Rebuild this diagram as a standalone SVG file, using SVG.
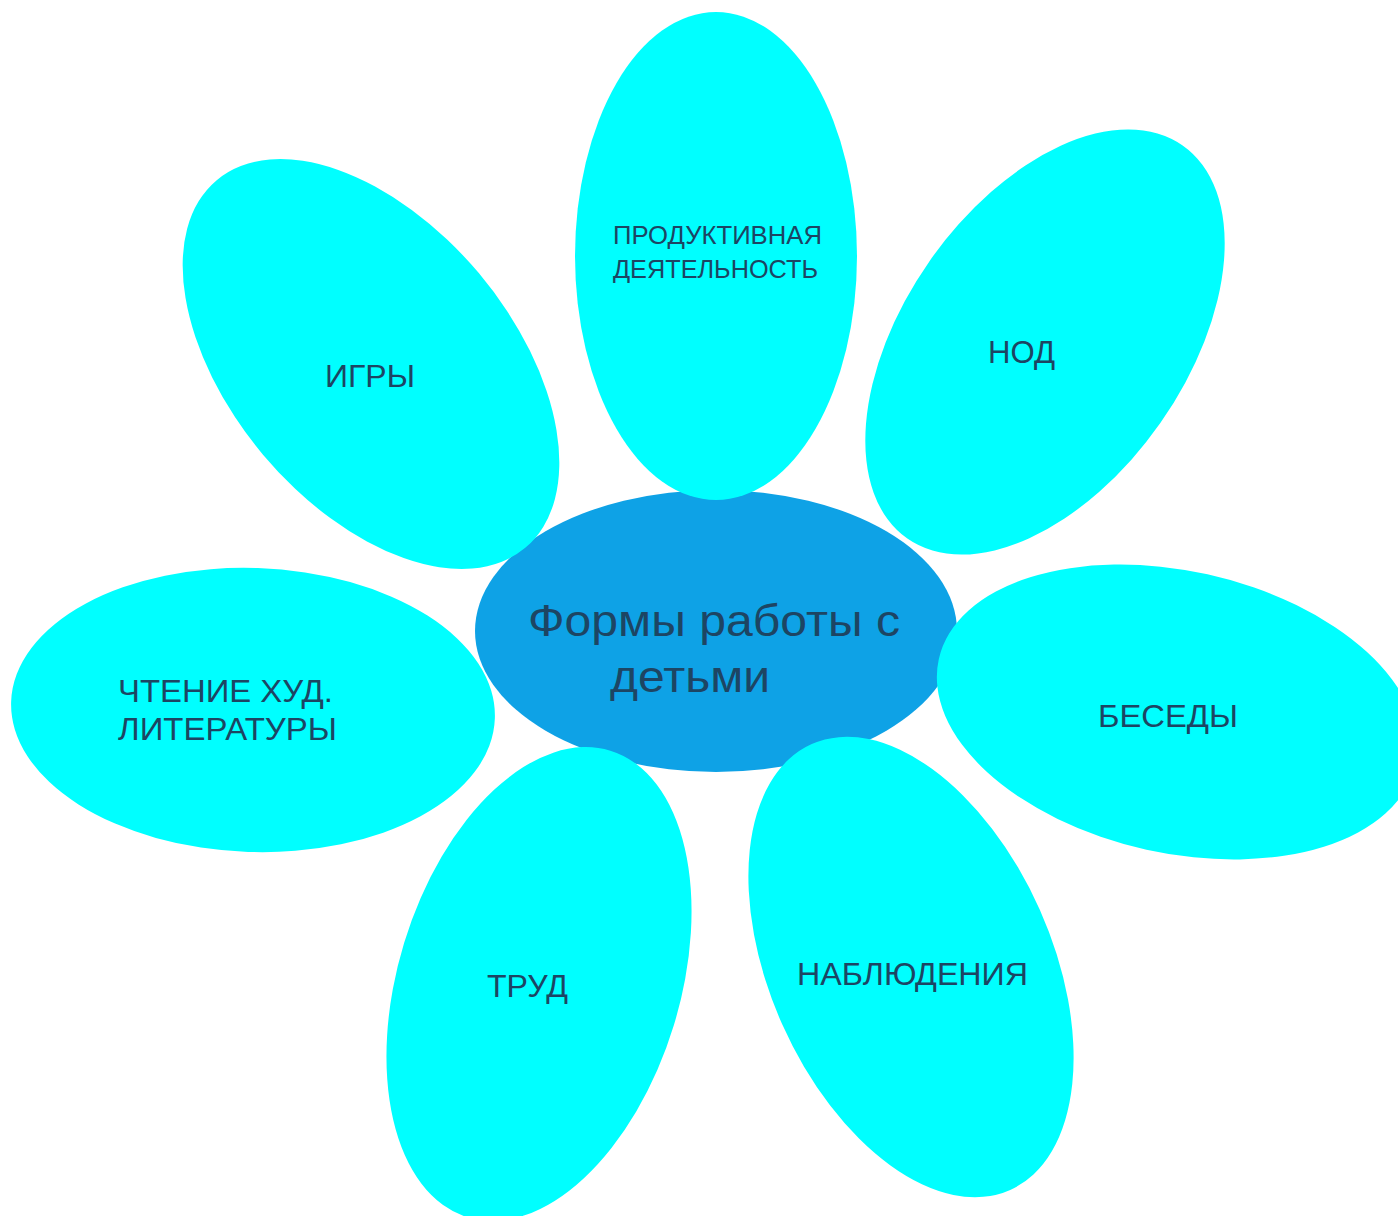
<svg xmlns="http://www.w3.org/2000/svg" width="1398" height="1216" viewBox="0 0 1398 1216">
  <style>
    .petal { fill: #00FFFF; }
    .core { fill: #0EA2E6; }
    .lbl { font-family: "Liberation Sans", Arial, sans-serif; fill: #1D4563; }
  </style>
  <rect width="1398" height="1216" fill="#FFFFFF"/>
  <g id="center">
    <ellipse class="core" cx="716" cy="631" rx="241" ry="141"/>
    <text class="lbl" x="528" y="636" font-size="44" textLength="372" lengthAdjust="spacingAndGlyphs">Формы работы с</text>
    <text class="lbl" x="610" y="692" font-size="44" textLength="160" lengthAdjust="spacingAndGlyphs">детьми</text>
  </g>
  <g id="connectors"></g>
  <g id="petal-productive">
    <ellipse class="petal" cx="716" cy="256" rx="141" ry="244"/>
    <text class="lbl" x="613" y="244" font-size="25" textLength="209" lengthAdjust="spacingAndGlyphs">ПРОДУКТИВНАЯ</text>
    <text class="lbl" x="613" y="278" font-size="25" textLength="205" lengthAdjust="spacingAndGlyphs">ДЕЯТЕЛЬНОСТЬ</text>
  </g>
  <g id="petal-games">
    <ellipse class="petal" cx="371" cy="364" rx="141" ry="240" transform="rotate(-40 371 364)"/>
    <text class="lbl" x="325" y="387" font-size="32" textLength="90" lengthAdjust="spacingAndGlyphs">ИГРЫ</text>
  </g>
  <g id="petal-nod">
    <ellipse class="petal" cx="1045" cy="342" rx="141" ry="240" transform="rotate(35 1045 342)"/>
    <text class="lbl" x="988" y="363" font-size="32" textLength="67" lengthAdjust="spacingAndGlyphs">НОД</text>
  </g>
  <g id="petal-reading">
    <ellipse class="petal" cx="253" cy="710" rx="242" ry="142" transform="rotate(2 253 710)"/>
    <text class="lbl" x="118" y="702" font-size="32" textLength="215" lengthAdjust="spacingAndGlyphs">ЧТЕНИЕ ХУД.</text>
    <text class="lbl" x="118" y="740" font-size="32" textLength="219" lengthAdjust="spacingAndGlyphs">ЛИТЕРАТУРЫ</text>
  </g>
  <g id="petal-talks">
    <ellipse class="petal" cx="1177" cy="712" rx="244" ry="141" transform="rotate(12.5 1177 712)"/>
    <text class="lbl" x="1098" y="727" font-size="32" textLength="140" lengthAdjust="spacingAndGlyphs">БЕСЕДЫ</text>
  </g>
  <g id="petal-labour">
    <ellipse class="petal" cx="539" cy="984" rx="141" ry="244" transform="rotate(17 539 984)"/>
    <text class="lbl" x="487" y="997" font-size="32" textLength="81" lengthAdjust="spacingAndGlyphs">ТРУД</text>
  </g>
  <g id="petal-observation">
    <ellipse class="petal" cx="911" cy="967" rx="141" ry="244" transform="rotate(-24 911 967)"/>
    <text class="lbl" x="797" y="985" font-size="32" textLength="231" lengthAdjust="spacingAndGlyphs">НАБЛЮДЕНИЯ</text>
  </g>
</svg>
